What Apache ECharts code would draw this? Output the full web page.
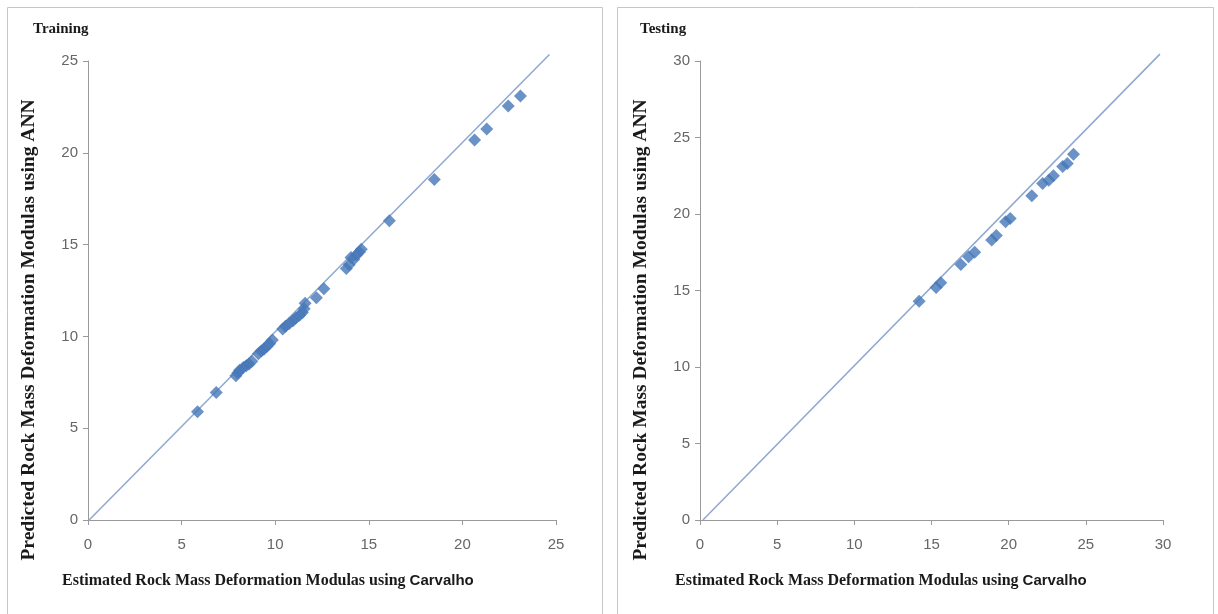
<!DOCTYPE html>
<html>
<head>
<meta charset="utf-8">
<script src="https://cdn.jsdelivr.net/npm/echarts@6/dist/echarts.min.js"></script>
<style>html,body{margin:0;padding:0;background:#fff}#c{width:1218px;height:614px}</style>
</head>
<body>
<div id="c"></div>
<script>
// Training: [estimated (Carvalho), predicted (ANN)]
const trainEstimated = [5.85,6.85,7.9,8.0,8.1,8.3,8.45,8.6,8.75,9.1,9.25,9.4,9.55,9.7,9.85,10.4,10.55,10.75,10.95,11.1,11.3,11.45,11.55,11.6,12.2,12.6,13.8,13.95,14.05,14.2,14.35,14.5,14.6,16.1,18.5,20.65,21.3,22.45,23.1];
const trainPredicted = [5.9,6.95,7.85,8.0,8.15,8.3,8.4,8.5,8.65,9.05,9.2,9.3,9.45,9.6,9.8,10.4,10.55,10.7,10.85,11.0,11.15,11.3,11.5,11.8,12.1,12.6,13.7,13.9,14.3,14.2,14.45,14.6,14.75,16.3,18.55,20.7,21.3,22.55,23.1];
const testEstimated = [14.2,15.3,15.6,16.9,17.4,17.8,18.9,19.2,19.8,20.1,21.5,22.2,22.6,22.9,23.5,23.8,24.2];
const testPredicted = [14.3,15.2,15.5,16.7,17.2,17.5,18.3,18.6,19.5,19.7,21.2,22.0,22.2,22.5,23.1,23.3,23.9];
// Reference lines [x, y] endpoints
const trainLineX = [0.06, 24.65];
const trainLineY = [0, 25.35];
const testLineX = [0.19, 29.8];
const testLineY = [0, 30.45];
const trainTicks = {min: 0, max: 25, interval: 5};
const testTicks = {min: 0, max: 30, interval: 5};
const panelTitles = ["Training", "Testing"];
const xTitle = "Estimated Rock Mass Deformation Modulas using ";
const xTitleName = "Carvalho";
const yTitle = "Predicted Rock Mass Deformation Modulas using ANN";

const zip = (a, b) => a.map((v, i) => [v, b[i]]);
const chart = echarts.init(document.getElementById('c'));

const axisCommon = {
  type: 'value',
  splitLine: {show: false},
  axisLine: {show: true, lineStyle: {color: '#9a9a9a', width: 1}},
  axisTick: {show: true, inside: false, length: 5, lineStyle: {color: '#9a9a9a'}},
};
const xLabel = {color: '#666', fontFamily: 'Liberation Sans', fontSize: 15, margin: 17};
const yLabel = {color: '#666', fontFamily: 'Liberation Sans', fontSize: 15, margin: 10};
const markerColor = '#4677b8';
const lineColor = '#8ea8cf';
const serif = 'Liberation Serif';

function mkXTitle(x, y) {
  return {
    type: 'text', left: x, top: y,
    style: {
      text: '{a|' + xTitle + '}{b|' + xTitleName + '}',
      rich: {
        a: {fontFamily: serif, fontWeight: 'bold', fontSize: 16, fill: '#1a1a1a'},
        b: {fontFamily: 'Liberation Sans', fontWeight: 'bold', fontSize: 15, fill: '#1a1a1a'}
      }
    }
  };
}
function mkYTitle(cx, cy) {
  return {
    type: 'text', x: cx, y: cy, rotation: Math.PI / 2,
    style: {
      text: yTitle, fontFamily: serif, fontWeight: 'bold', fontSize: 19.5, fill: '#1a1a1a',
      align: 'center', verticalAlign: 'middle'
    }
  };
}

chart.setOption({
  animation: false,
  backgroundColor: '#fff',
  grid: [
    {left: 88, top: 61, width: 468, height: 459},
    {left: 700, top: 61, width: 463, height: 459}
  ],
  xAxis: [
    Object.assign({}, axisCommon, {gridIndex: 0, axisLabel: xLabel}, trainTicks),
    Object.assign({}, axisCommon, {gridIndex: 1, axisLabel: xLabel}, testTicks)
  ],
  yAxis: [
    Object.assign({}, axisCommon, {gridIndex: 0, axisLabel: yLabel}, trainTicks),
    Object.assign({}, axisCommon, {gridIndex: 1, axisLabel: yLabel}, testTicks)
  ],
  series: [
    {type: 'line', xAxisIndex: 0, yAxisIndex: 0, data: zip(trainLineX, trainLineY), showSymbol: false,
      lineStyle: {color: lineColor, width: 1.5}, z: 1, silent: true, clip: false},
    {type: 'scatter', xAxisIndex: 0, yAxisIndex: 0, data: zip(trainEstimated, trainPredicted),
      symbol: 'diamond', symbolSize: 13, itemStyle: {color: markerColor}, z: 2},
    {type: 'line', xAxisIndex: 1, yAxisIndex: 1, data: zip(testLineX, testLineY), showSymbol: false,
      lineStyle: {color: lineColor, width: 1.5}, z: 1, silent: true, clip: false},
    {type: 'scatter', xAxisIndex: 1, yAxisIndex: 1, data: zip(testEstimated, testPredicted),
      symbol: 'diamond', symbolSize: 13, itemStyle: {color: markerColor}, z: 2}
  ],
  graphic: [
    {type: 'rect', shape: {x: 7.5, y: 7.5, width: 595, height: 610}, style: {fill: 'none', stroke: '#c6c6c6', lineWidth: 1}},
    {type: 'rect', shape: {x: 617.5, y: 7.5, width: 596, height: 610}, style: {fill: 'none', stroke: '#c6c6c6', lineWidth: 1}},
    {type: 'text', left: 33, top: 22, style: {text: panelTitles[0], fontFamily: serif, fontWeight: 'bold', fontSize: 15, fill: '#1a1a1a'}},
    {type: 'text', left: 640, top: 22, style: {text: panelTitles[1], fontFamily: serif, fontWeight: 'bold', fontSize: 15, fill: '#1a1a1a'}},
    mkXTitle(62, 573),
    mkXTitle(675, 573),
    mkYTitle(29, 330),
    mkYTitle(641, 330)
  ]
});
</script>
</body>
</html>
